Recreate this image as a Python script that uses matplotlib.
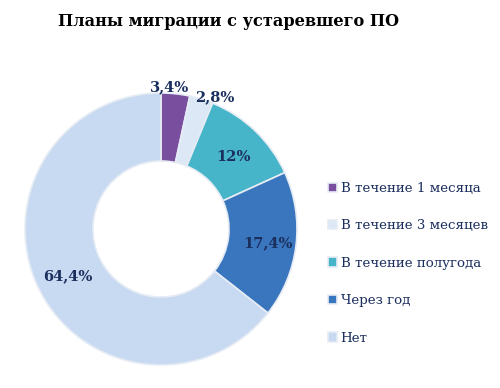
import matplotlib
matplotlib.use("Agg")
import matplotlib.pyplot as plt
import numpy as np

title = "Планы миграции с устаревшего ПО"
categories = ["В течение 1 месяца", "В течение 3 месяцев", "В течение полугода", "Через год", "Нет"]
values = [3.4, 2.8, 12.0, 17.4, 64.4]
colors = ["#7A4E9E", "#DCE8F6", "#47B5C9", "#3A76BE", "#C8DAF1"]
label_dist = [1.045, 1.045, 0.75, 0.79, 0.77]
label_shift = [2.5, -5.0, -1.0, -0.7, 1.0]

text_color = "#1B2F5E"
serif = ["DejaVu Serif"]

fig = plt.figure(figsize=(5.0, 3.88), dpi=100)
ax = fig.add_axes([25/500, 23/388, 272/500, 272/388])
wedges, _ = ax.pie(values, colors=colors, startangle=90, counterclock=False,
                   radius=1.0, wedgeprops=dict(width=0.5, edgecolor="#E6ECF4", linewidth=1.2))
ax.set_xlim(-1, 1)
ax.set_ylim(-1, 1)
ax.set_aspect("equal")
ax.axis("off")

total = sum(values)
cum = 0
for v, d, sh in zip(values, label_dist, label_shift):
    mid = 90 - (cum + v / 2) / total * 360 + sh
    cum += v
    a = np.deg2rad(mid)
    s = f"{v:g}".replace(".", ",") + "%"
    ax.text(d * np.cos(a), d * np.sin(a), s, ha="center", va="center",
            fontsize=10.5, fontweight="bold", color=text_color, family=serif)

fig.text(0.457, 0.945, title, ha="center", va="center", fontsize=11.6,
         fontweight="bold", color="black", family=serif)

leg = fig.legend(wedges, categories, loc="upper left", bbox_to_anchor=(316/500, 1 - 170/388),
                 frameon=False, handlelength=0.7, handleheight=0.7, handletextpad=0.25,
                 labelspacing=1.83, prop=dict(family=serif, size=9.6))
for t in leg.get_texts():
    t.set_color(text_color)

fig.savefig("out.png", dpi=100)
